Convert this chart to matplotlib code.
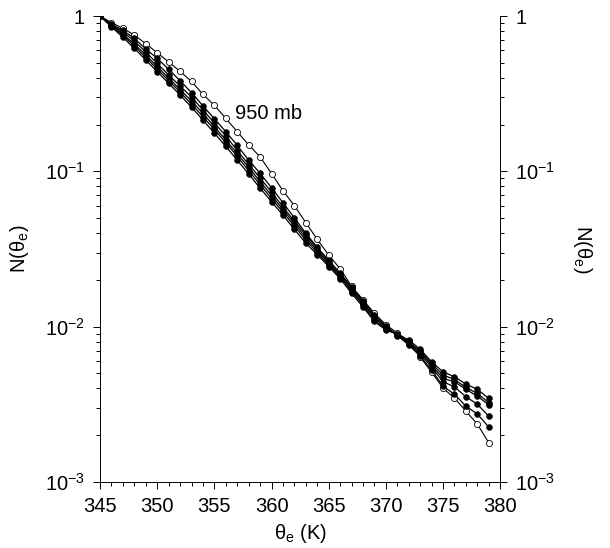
import matplotlib
matplotlib.use("Agg")
import matplotlib.pyplot as plt
from matplotlib.ticker import FixedLocator, NullFormatter, LogLocator
import numpy as np

plt.rcParams['font.family'] = ['Liberation Sans', 'DejaVu Sans']
plt.rcParams['mathtext.fontset'] = 'custom'
plt.rcParams['mathtext.rm'] = 'Liberation Sans'
plt.rcParams['mathtext.it'] = 'Liberation Sans'

theta_e = list(range(345, 380))

# 950 mb (open circles)
n_950 = [1.0, 0.906, 0.833, 0.754, 0.663, 0.580, 0.506, 0.440, 0.379, 0.313,
         0.266, 0.219, 0.180, 0.148, 0.124, 0.0968, 0.0750, 0.0601, 0.0467, 0.0365,
         0.0289, 0.0236, 0.0182, 0.0149, 0.0122, 0.0103, 0.00910, 0.00808, 0.00637, 0.00510,
         0.00402, 0.00347, 0.00286, 0.00236, 0.00179]

# filled-circle levels
n_a = [1.0, 0.888, 0.807, 0.718, 0.613, 0.534, 0.454, 0.383, 0.321, 0.264,
       0.218, 0.180, 0.147, 0.118, 0.0971, 0.0784, 0.0628, 0.0502, 0.0399, 0.0324,
       0.0268, 0.0221, 0.0180, 0.0147, 0.0119, 0.0101, 0.00883, 0.00761, 0.00647, 0.00525,
       0.00414, 0.00367, 0.00308, 0.00274, 0.00226]
n_b = [1.0, 0.875, 0.789, 0.690, 0.586, 0.496, 0.417, 0.354, 0.301, 0.248,
       0.205, 0.169, 0.136, 0.111, 0.0906, 0.0735, 0.0589, 0.0478, 0.0389, 0.0318,
       0.0261, 0.0218, 0.0177, 0.0144, 0.0116, 0.00999, 0.00877, 0.00772, 0.00666, 0.00549,
       0.00442, 0.00410, 0.00354, 0.00317, 0.00265]
n_c = [1.0, 0.869, 0.765, 0.660, 0.561, 0.473, 0.399, 0.336, 0.284, 0.236,
       0.194, 0.159, 0.130, 0.106, 0.0860, 0.0699, 0.0568, 0.0461, 0.0375, 0.0309,
       0.0255, 0.0213, 0.0172, 0.0141, 0.0114, 0.00980, 0.00883, 0.00790, 0.00686, 0.00566,
       0.00464, 0.00442, 0.00395, 0.00357, 0.00314]
n_d = [1.0, 0.862, 0.749, 0.641, 0.541, 0.456, 0.384, 0.324, 0.271, 0.225,
       0.186, 0.153, 0.125, 0.101, 0.0822, 0.0668, 0.0547, 0.0444, 0.0361, 0.0300,
       0.0249, 0.0209, 0.0168, 0.0138, 0.0110, 0.00965, 0.00889, 0.00802, 0.00697, 0.00579,
       0.00488, 0.00458, 0.00406, 0.00372, 0.00324]
n_e = [1.0, 0.850, 0.729, 0.619, 0.521, 0.438, 0.369, 0.310, 0.259, 0.214,
       0.176, 0.145, 0.118, 0.0961, 0.0780, 0.0637, 0.0523, 0.0423, 0.0345, 0.0291,
       0.0244, 0.0204, 0.0164, 0.0134, 0.0108, 0.00951, 0.00896, 0.00820, 0.00717, 0.00594,
       0.00512, 0.00476, 0.00427, 0.00395, 0.00345]

ytick_vals = [1e-3, 1e-2, 1e-1, 1]
ytick_labels = ['$10^{-3}$', '$10^{-2}$', '$10^{-1}$', '1']
xtick_vals = [345, 350, 355, 360, 365, 370, 375, 380]

fs = 14.5

fig = plt.figure(figsize=(6.1, 5.48), dpi=100)
ax = fig.add_axes([0.164, 0.1204, 0.656, 0.8504])

ax.plot(theta_e, n_950, color='black', lw=0.8, marker='o', ms=4.4,
        mfc='white', mec='black', mew=0.6)
for s in [n_a, n_b, n_c, n_d, n_e]:
    ax.plot(theta_e, s, color='black', lw=0.9, marker='o', ms=4.2,
            mfc='black', mec='black', mew=0.4)

ax.set_yscale('log')
ax.set_xlim(345, 380)
ax.set_ylim(1e-3, 1)

ax.xaxis.set_major_locator(FixedLocator(xtick_vals))
ax.xaxis.set_minor_locator(FixedLocator(list(range(345, 381))))
ax.set_yticks(ytick_vals)
ax.set_yticklabels(ytick_labels)
ax.yaxis.set_minor_locator(LogLocator(base=10, subs=np.arange(2, 10)))
ax.yaxis.set_minor_formatter(NullFormatter())

ax.tick_params(which='both', direction='out', labelsize=fs, width=0.7,
               right=True, labelright=True, top=False)
ax.tick_params(which='major', length=5, pad=6)
ax.tick_params(which='minor', length=3)
ax.spines['top'].set_visible(False)
for sp in ['left', 'right', 'bottom']:
    ax.spines[sp].set_linewidth(0.7)

ax.set_xlabel('θ$_e$ (K)', fontsize=fs, labelpad=4)
ax.set_ylabel('N(θ$_e$)', fontsize=fs, labelpad=10)
fig.text(0.955, 0.545, 'N(θ$_e$)', rotation=-90, fontsize=fs,
         ha='center', va='center')

ax.text(356.8, 0.205, '950 mb', fontsize=fs, ha='left', va='bottom')

fig.savefig('out.png', dpi=100, facecolor='white')
